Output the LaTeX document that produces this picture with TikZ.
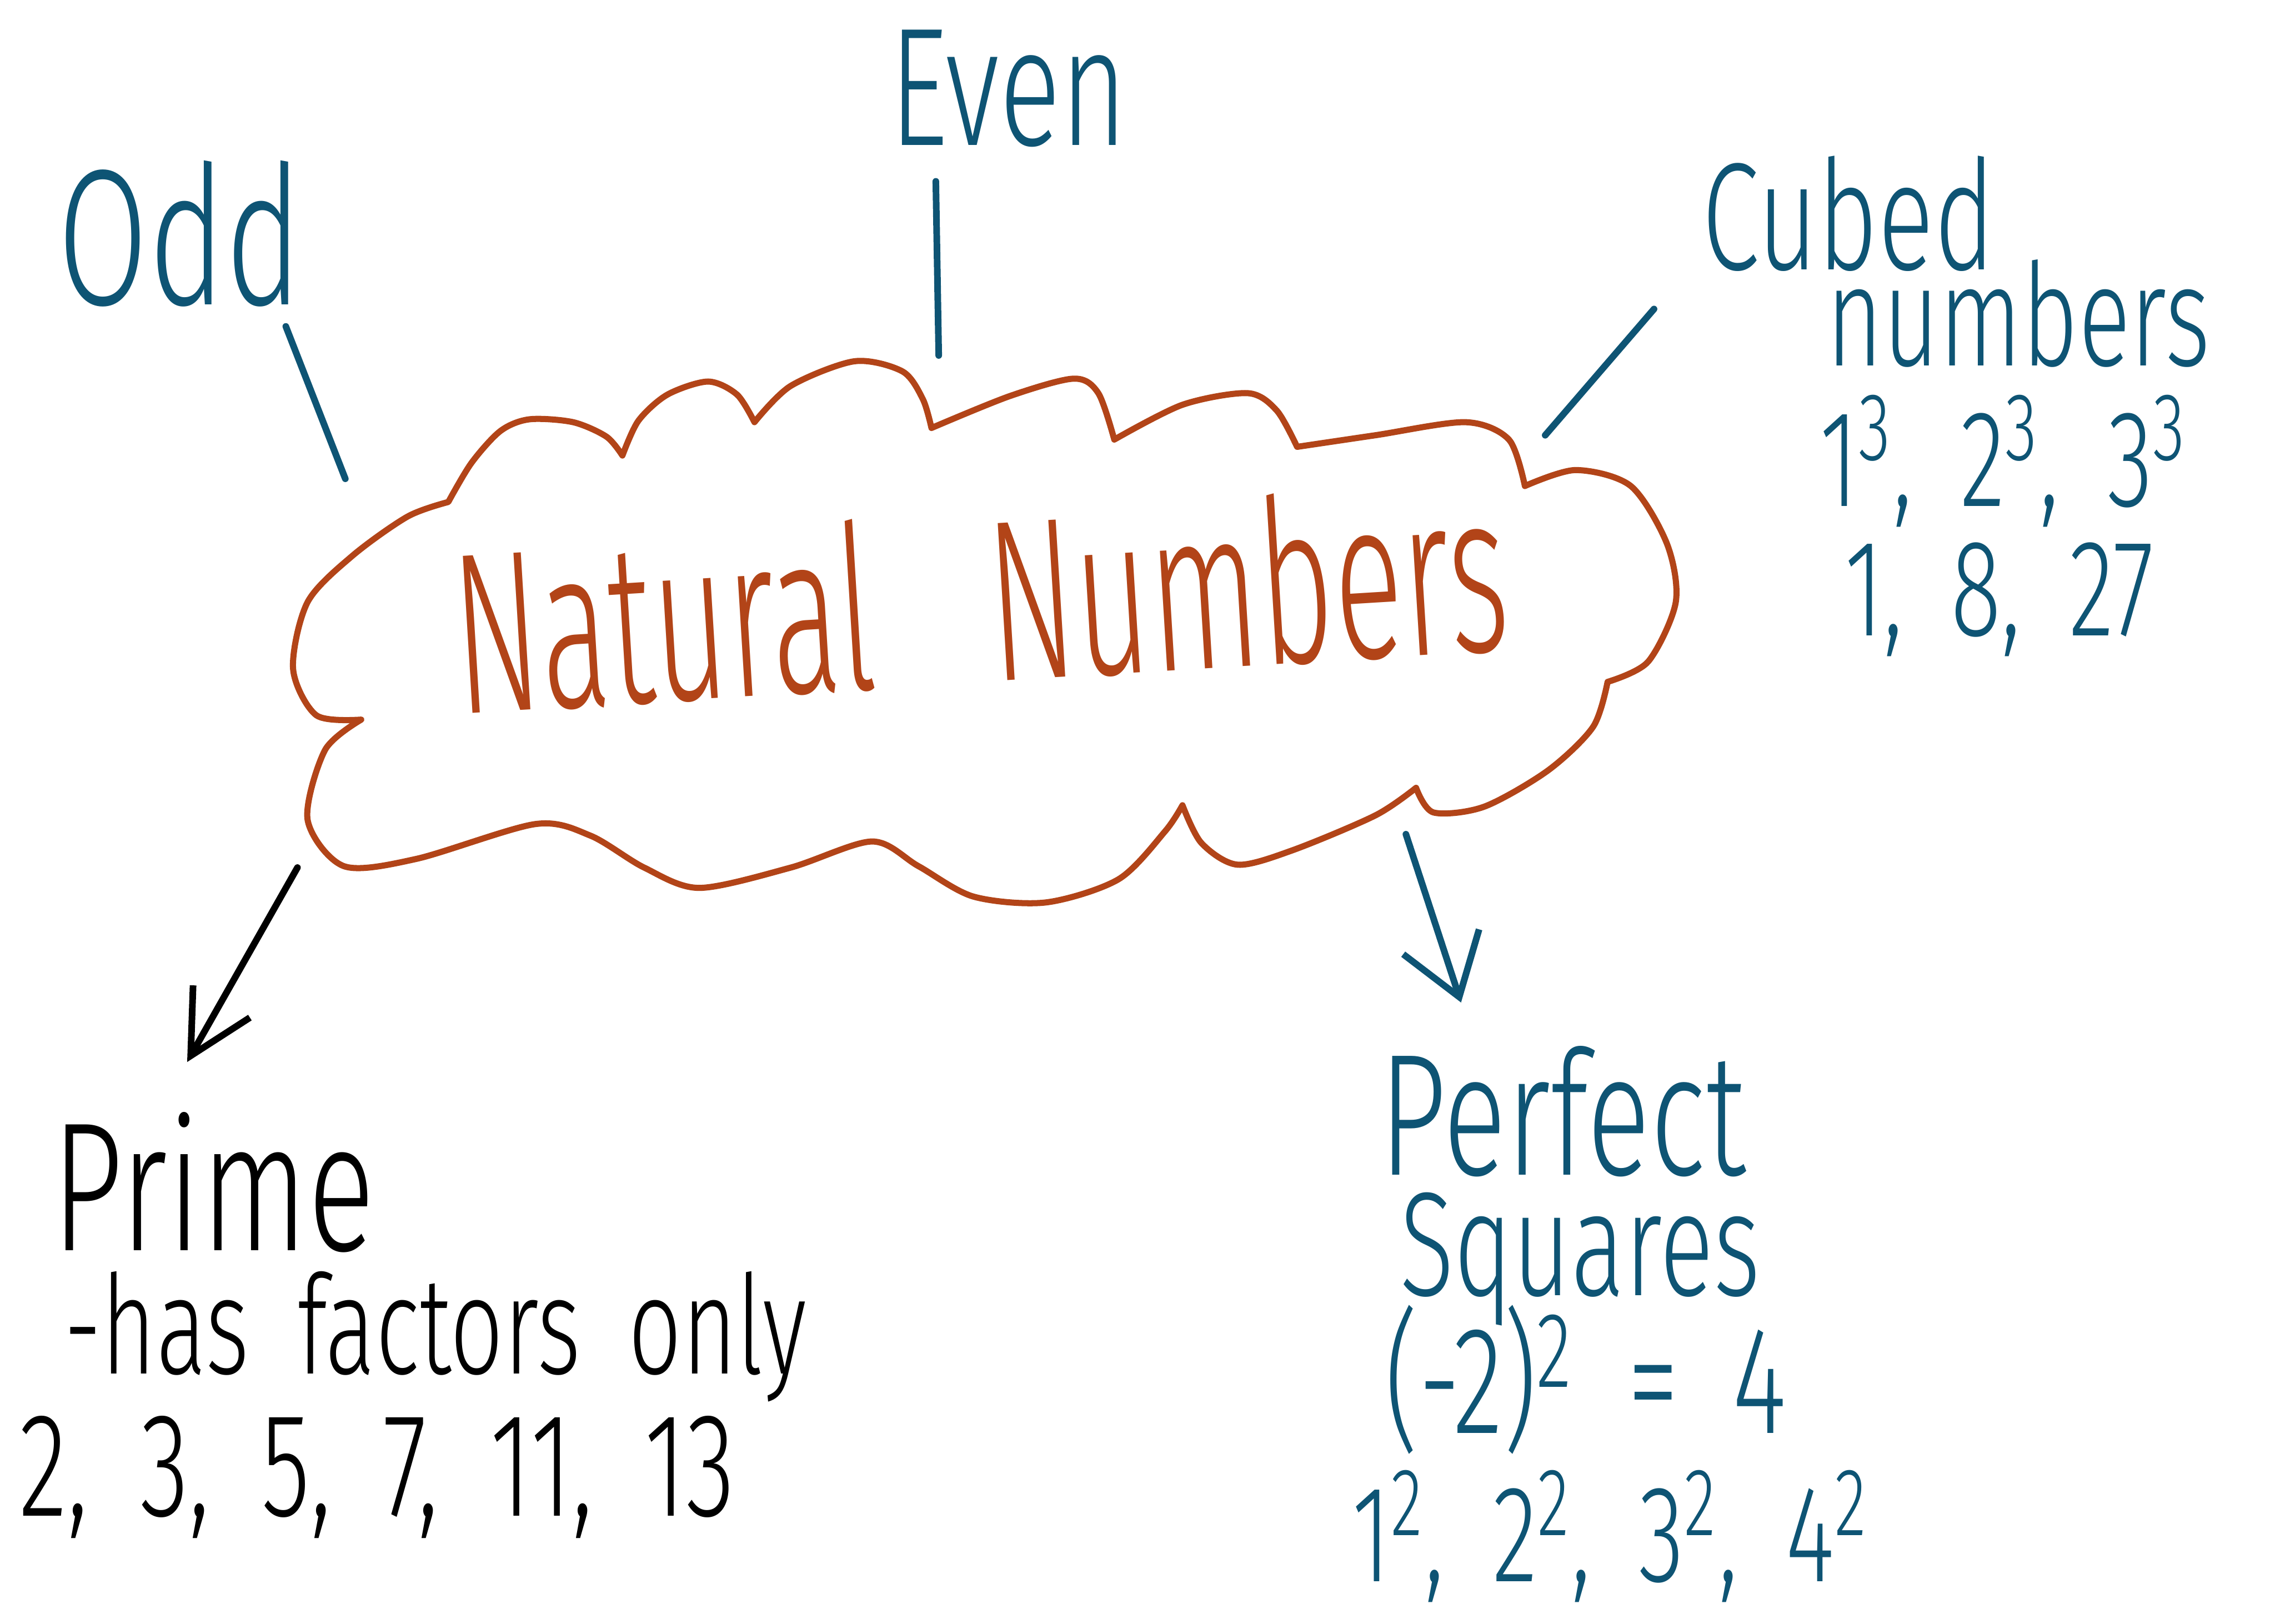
\documentclass[tikz,border=0pt]{standalone}
\usepackage{fontspec}
\usepackage{xcolor}
\usepackage{tikz}
\usetikzlibrary{arrows.meta,positioning}

\newfontfamily\handfont{Fira Sans}[UprightFont=* Light, FakeStretch=0.68]
\newfontfamily\handnarrow{Fira Sans}[UprightFont=* Light, FakeStretch=0.56]
\definecolor{inkblue}{RGB}{14,84,116}
\definecolor{inkbrown}{RGB}{178,68,24}
\newcommand{\hand}[1]{\handfont\fontsize{#1pt}{#1pt}\selectfont\spaceskip=0.35em plus 0.05em}
\newcommand{\pw}[1]{\textsuperscript{#1}}

\begin{document}
\begin{tikzpicture}[
    x=0.01cm, y=-0.01cm,
    word/.style={inner sep=0pt, anchor=base, text=inkblue},
    link/.style={inkblue, line width=1.3pt, line cap=round},
    arrow/.style={link, -{Straight Barb[length=4mm, width=5.5mm]}},
    cloudline/.style={inkbrown, line width=1.2pt, line join=round, line cap=round}
]
    \useasboundingbox (0,0) rectangle (1568,1119);

    % Cloud in the middle
    \draw[cloudline]
        plot[smooth] coordinates {(309,346) (325,319) (345,297) (365,289) (395,291) (418,301) (429,314)}
        -- plot[smooth] coordinates {(429,314) (440,290) (460,272) (488,263) (508,272) (520,291)}
        -- plot[smooth] coordinates {(520,291) (545,266) (589,249) (622,256) (636,275) (642,295)}
        -- plot[smooth] coordinates {(642,295) (696,273) (740,261) (757,271) (768,303)}
        -- plot[smooth] coordinates {(768,303) (815,279) (860,271) (880,283) (894,308)}
        -- plot[smooth] coordinates {(894,308) (948,300) (1010,291) (1040,303) (1051,335)}
        -- plot[smooth] coordinates {(1051,335) (1086,324) (1124,335) (1149,375) (1155,415) (1136,456) (1108,470)}
        -- plot[smooth] coordinates {(1108,470) (1098,501) (1067,531) (1023,556) (988,560) (976,543)}
        -- plot[smooth] coordinates {(976,543) (948,562) (891,586) (853,596) (828,581) (815,555)}
        -- plot[smooth] coordinates {(815,555) (803,573) (771,606) (721,622) (671,618) (633,597) (601,580)
                                     (545,598) (482,612) (444,598) (407,576) (369,568) (287,592) (237,597)
                                     (212,565) (224,517) (249,496)}
        -- plot[smooth] coordinates {(249,496) (218,493) (202,461) (212,415) (243,383) (281,356) (309,346)};

    \node[word, text=inkbrown, rotate=3.5, font=\hand{45}\handnarrow] (natural) at (679,470) {Natural\hspace{0.5em}Numbers};

    % Odd and Even
    \node[word, font=\hand{38}] (odd) at (124,210) {Odd};
    \node[word, font=\hand{33}] (even) at (695,100) {Even};
    \coordinate (oddtop) at (197,225);
    \coordinate (oddfoot) at (238,330);
    \coordinate (eventop) at (645,125);
    \coordinate (evenfoot) at (647,245);
    \draw[link] (oddtop) -- (oddfoot);
    \draw[link] (eventop) -- (evenfoot);

    % Cubed numbers
    \node[word, font=\hand{30}] (cubed) at (1274,186) {Cubed};
    \node[word, font=\hand{28}] (cubednum) at (1391,252) {numbers};
    \node[word, font=\hand{27}] (cubedpow) at (1381,349) {1\pw{3}, 2\pw{3}, 3\pw{3}};
    \node[word, font=\hand{27}] (cubedval) at (1378,438) {1, 8, 27};
    \coordinate (cubedtop) at (1140,213);
    \coordinate (cubedfoot) at (1065,300);
    \draw[link] (cubedtop) -- (cubedfoot);

    % Prime
    \node[word, text=black, font=\hand{36}] (prime) at (147,862) {Prime};
    \node[word, text=black, font=\hand{27}] (primedef) at (300,947) {-has factors only};
    \node[word, text=black, font=\hand{29}] (primelist) at (260,1045) {2, 3, 5, 7, 11, 13};
    \coordinate (primestart) at (205,598);
    \coordinate (primetip) at (129,732);
    \draw[arrow, black, -{Straight Barb[length=4.3mm, width=4.5mm]}] (primestart) -- (primetip);

    % Perfect squares
    \node[word, font=\hand{34}] (perfect) at (1077,810) {Perfect};
    \node[word, font=\hand{29}] (squares) at (1089,893) {Squares};
    \node[word, font=\hand{30}] (sqexample) at (1093,988) {(-2)\pw{2} = 4};
    \node[word, font=\hand{27}] (sqlist) at (1110,1090) {1\pw{2}, 2\pw{2}, 3\pw{2}, 4\pw{2}};
    \coordinate (sqstart) at (969,575);
    \coordinate (sqtip) at (1007,691);
    \draw[arrow] (sqstart) -- (sqtip);
\end{tikzpicture}
\end{document}
